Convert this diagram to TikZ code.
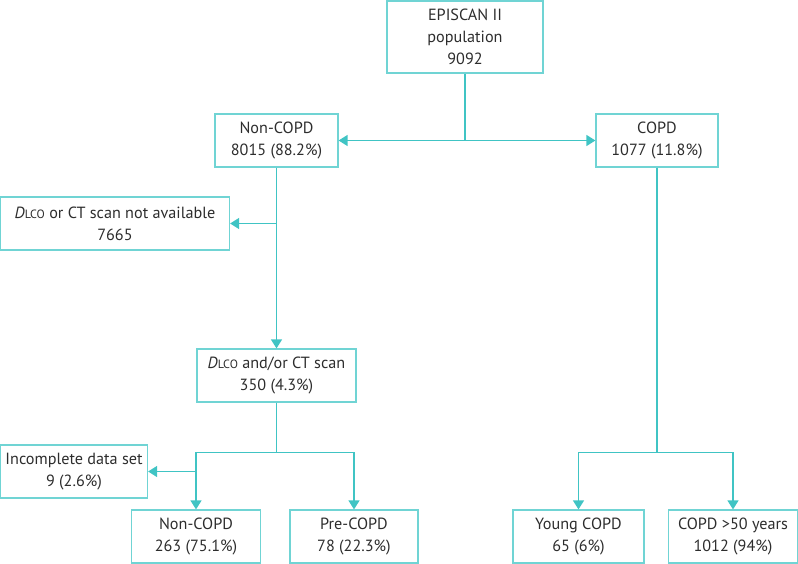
\documentclass[tikz,border=0pt]{standalone}
\usepackage{fontspec}
\setmainfont{PT Sans}
\usepackage{tikz}
\usetikzlibrary{arrows.meta, positioning}
\definecolor{flowteal}{RGB}{64,196,196}
\definecolor{boxteal}{RGB}{112,212,212}
\definecolor{textgrey}{RGB}{45,45,45}
\newcommand{\dlco}{\textit{D}{\fontsize{12}{12}\selectfont LCO}}

\begin{document}
\begin{tikzpicture}[
      x=1pt, y=-1pt,
      box/.style={rectangle, draw=boxteal, line width=1.2pt, minimum height=53pt, inner sep=0pt, align=center, text=textgrey},
      arrow/.style={-{Triangle[width=11pt, length=9pt]}, flowteal, line width=1.3pt},
      line/.style={flowteal, line width=1.3pt},
      every node/.style={font=\fontsize{16.2}{22}\selectfont}
    ]
    \useasboundingbox (0,0) rectangle (798,564);

    % Population
    \node[box, minimum width=156pt, minimum height=72pt] (pop) at (465,37) {EPISCAN II\\population\\9092};

    % First split
    \node[box, minimum width=123pt] (noncopd) at (276.5,140.5) {Non-COPD\\8015 (88.2\%)};
    \node[box, minimum width=122pt] (copd) at (657,140.5) {COPD\\1077 (11.8\%)};

    \draw[line] (pop.south) -- (pop.south |- noncopd.east) coordinate (split);
    \draw[arrow] (split) -- (noncopd.east);
    \draw[arrow] (split) -- (copd.west);

    % Non-COPD branch
    \node[box, minimum width=229pt] (nodata) at (115,223.5) {\dlco{} or CT scan not available\\7665};
    \node[box, minimum width=159pt] (scan) at (276.5,375.5) {\dlco{} and/or CT scan\\350 (4.3\%)};

    \draw[arrow] (noncopd.south) -- (scan.north);
    \draw[arrow] (noncopd.south |- nodata.east) -- (nodata.east);

    % Scanned subjects
    \node[box, minimum width=147pt] (incomplete) at (74,471.5) {Incomplete data set\\9 (2.6\%)};
    \node[box, minimum width=129pt] (nonfinal) at (196,536.5) {Non-COPD\\263 (75.1\%)};
    \node[box, minimum width=128pt] (precopd) at (354,536.5) {Pre-COPD\\78 (22.3\%)};

    \draw[line] (scan.south) -- ++(0,50) coordinate (scansplit);
    \draw[arrow] (scansplit) -| (nonfinal.north);
    \draw[arrow] (scansplit) -| (precopd.north);
    \draw[arrow] (nonfinal.north |- incomplete.east) -- (incomplete.east);

    % COPD branch
    \node[box, minimum width=131pt] (young) at (578.5,536.5) {Young COPD\\65 (6\%)};
    \node[box, minimum width=129pt] (older) at (733,536.5) {COPD >50 years\\1012 (94\%)};

    \draw[line] (copd.south) -- (copd.south |- scansplit) coordinate (copdsplit);
    \draw[arrow] (copdsplit) -| (young.north);
    \draw[arrow] (copdsplit) -| (older.north);

\end{tikzpicture}
\end{document}
